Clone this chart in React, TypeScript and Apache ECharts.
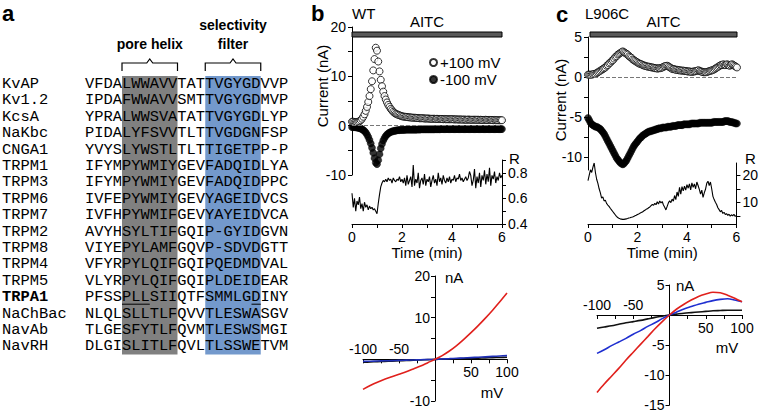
import React, { useEffect, useRef } from 'react';
import * as echarts from 'echarts';

// ---------- Panel a: alignment ----------
const NAMES = ['KvAP', 'Kv1.2', 'KcsA', 'NaKbc', 'CNGA1', 'TRPM1', 'TRPM3', 'TRPM6', 'TRPM7', 'TRPM2', 'TRPM8', 'TRPM4', 'TRPM5', 'TRPA1', 'NaChBac', 'NavAb', 'NavRH'];
const SEQS = [
  'VFDALWWAVVTATTVGYGDVVP',
  'IPDAFWWAVVSMTTVGYGDMVP',
  'YPRALWWSVATATTVGYGDLYP',
  'PIDALYFSVVTLTTVGDGNFSP',
  'YVYSLYWSTLTLTTIGETPP-P',
  'IFYMPYWMIYGEVFADQIDLYA',
  'IFYMPYWMIYGEVFADQIDPPC',
  'IVFEPYWMIYGEVYAGEIDVCS',
  'IVFHPYWMIFGEVYAYEIDVCA',
  'AVYHSYLTIFGQIP-GYIDGVN',
  'VIYEPYLAMFGQVP-SDVDGTT',
  'VFYRPYLQIFGQIPQEDMDVAL',
  'VLYRPYLQIFGQIPLDEIDEAR',
  'PFSSPLLSIIQTFSMMLGDINY',
  'NLQLSLLTLFQVVTLESWASGV',
  'TLGESFYTLFQVMTLESWSMGI',
  'DLGISLITLFQVLTLSSWETVM',
];
const BOLD_NAME = 'TRPA1';
const PORE_COLS = [4, 10];
const FILTER_COLS = [13, 19];

// ---------- Panel b / c time courses (sampled every 0.05 min, 0..6 min) ----------
const SAMPLE_MIN = 0.05;
const WT_PLUS = [
  0.8, 0.8, 0.7, 0.7, 0.7, 0.8, 0.9, 1.1, 1.4, 1.8,
  2.3, 3.0, 3.8, 4.8, 6.0, 7.4, 9.0, 11.2, 13.5, 15.8,
  15.2, 13.0, 11.0, 9.3, 8.0, 6.9, 6.0, 5.3, 4.7, 4.2,
  3.8, 3.4, 3.1, 2.8, 2.6, 2.4, 2.3, 2.2, 2.1, 2.0,
  1.9, 1.85, 1.8, 1.8, 1.75, 1.7, 1.7, 1.65, 1.65, 1.6,
  1.6, 1.6, 1.55, 1.55, 1.5, 1.5, 1.5, 1.5, 1.45, 1.45,
  1.45, 1.45, 1.4, 1.4, 1.4, 1.4, 1.4, 1.35, 1.4, 1.35,
  1.35, 1.35, 1.35, 1.3, 1.35, 1.3, 1.3, 1.3, 1.3, 1.3,
  1.3, 1.3, 1.25, 1.3, 1.25, 1.25, 1.25, 1.25, 1.25, 1.2,
  1.25, 1.2, 1.2, 1.25, 1.2, 1.2, 1.2, 1.2, 1.2, 1.2,
  1.2, 1.2, 1.15, 1.2, 1.15, 1.15, 1.15, 1.2, 1.15, 1.15,
  1.15, 1.15, 1.15, 1.1, 1.15, 1.1, 1.1, 1.1, 1.1, 1.1,
  1.1,
];
const WT_MINUS = [
  -0.3, -0.3, -0.3, -0.3, -0.4, -0.4, -0.5, -0.6, -0.7, -0.9,
  -1.1, -1.4, -1.8, -2.3, -2.9, -3.6, -4.5, -5.5, -6.6, -7.5,
  -7.8, -7.0, -5.8, -4.6, -3.7, -3.0, -2.5, -2.1, -1.8, -1.6,
  -1.4, -1.3, -1.2, -1.1, -1.05, -1.0, -0.95, -0.9, -0.9, -0.85,
  -0.85, -0.85, -0.85, -0.8, -0.8, -0.8, -0.8, -0.8, -0.8, -0.8,
  -0.8, -0.8, -0.8, -0.75, -0.8, -0.75, -0.75, -0.75, -0.75, -0.75,
  -0.75, -0.75, -0.75, -0.75, -0.75, -0.75, -0.75, -0.7, -0.75, -0.7,
  -0.75, -0.7, -0.7, -0.7, -0.7, -0.7, -0.7, -0.7, -0.7, -0.7,
  -0.7, -0.7, -0.7, -0.7, -0.7, -0.7, -0.7, -0.7, -0.7, -0.7,
  -0.7, -0.7, -0.7, -0.7, -0.7, -0.7, -0.7, -0.7, -0.7, -0.7,
  -0.7, -0.7, -0.7, -0.7, -0.7, -0.7, -0.7, -0.7, -0.7, -0.7,
  -0.7, -0.7, -0.7, -0.7, -0.7, -0.7, -0.7, -0.7, -0.7, -0.7,
  -0.7,
];
const WT_R = [
  0.64, 0.53, 0.60, 0.50, 0.58, 0.55, 0.61, 0.52, 0.56, 0.50,
  0.57, 0.53, 0.55, 0.51, 0.54, 0.52, 0.53, 0.51, 0.52, 0.50,
  0.48, 0.56, 0.63, 0.69, 0.72, 0.74, 0.73,
  0.75, 0.73, 0.76, 0.74, 0.75, 0.72, 0.76, 0.74, 0.73, 0.75,
  0.74, 0.77, 0.73, 0.75, 0.72, 0.76, 0.70, 0.78, 0.71, 0.74,
  0.77, 0.69, 0.86, 0.70, 0.75, 0.72, 0.80, 0.68, 0.74, 0.76,
  0.71, 0.79, 0.70, 0.75, 0.73, 0.77, 0.69, 0.74, 0.78, 0.72,
  0.75, 0.70, 0.80, 0.73, 0.76, 0.71, 0.78, 0.74, 0.72, 0.76,
  0.73, 0.77, 0.72, 0.75, 0.74, 0.78, 0.73, 0.76, 0.75, 0.79,
  0.74, 0.76, 0.73, 0.75, 0.77, 0.74, 0.76, 0.81, 0.78, 0.70,
  0.74, 0.83, 0.68, 0.77, 0.72, 0.80, 0.69, 0.78, 0.74, 0.82,
  0.71, 0.79, 0.73, 0.84, 0.70, 0.78, 0.75, 0.81, 0.72, 0.77,
  0.74, 0.80, 0.76, 0.78,
];
const MUT_PLUS = [
  0.3, 0.3, 0.3, 0.3, 0.35, 0.4, 0.4, 0.5, 0.6, 0.7,
  0.8, 0.9, 1.0, 1.1, 1.2, 1.4, 1.5, 1.7, 1.8, 2.0,
  2.1, 2.3, 2.5, 2.6, 2.8, 2.9, 3.0, 3.1, 3.2, 3.1,
  3.0, 2.9, 2.8, 2.6, 2.5, 2.4, 2.2, 2.1, 2.0, 1.9,
  1.8, 1.7, 1.65, 1.6, 1.5, 1.45, 1.4, 1.35, 1.3, 1.3,
  1.25, 1.2, 1.2, 1.15, 1.1, 1.1, 1.05, 1.1, 1.1, 1.15,
  1.2, 1.3, 1.35, 1.4, 1.4, 1.3, 1.2, 1.1, 1.0, 1.0,
  0.95, 0.9, 0.9, 0.85, 0.85, 0.8, 0.8, 0.8, 0.75, 0.75,
  0.7, 0.7, 0.7, 0.65, 0.65, 0.7, 0.7, 0.75, 0.8, 0.85,
  0.75, 0.7, 0.65, 0.6, 0.6, 0.6, 0.65, 0.7, 0.75, 0.8,
  0.85, 0.9, 1.0, 1.1, 1.2, 1.3, 1.4, 1.5, 1.5, 1.6,
  1.5, 1.5, 1.6, 1.5, 1.4, 1.5, 1.6, 1.5, 1.4, 1.3,
  1.2,
];
const MUT_MINUS = [
  -5.1, -5.4, -5.7, -5.9, -6.0, -6.1, -6.2, -6.2, -6.3, -6.4,
  -6.5, -6.7, -6.9, -7.1, -7.4, -7.7, -8.0, -8.3, -8.6, -8.9,
  -9.2, -9.5, -9.8, -10.1, -10.3, -10.5, -10.7, -10.8, -10.9, -10.8,
  -10.6, -10.4, -10.1, -9.8, -9.5, -9.2, -8.9, -8.6, -8.4, -8.2,
  -8.0, -7.8, -7.6, -7.5, -7.3, -7.2, -7.1, -7.0, -6.9, -6.8,
  -6.8, -6.7, -6.7, -6.6, -6.6, -6.5, -6.5, -6.4, -6.4, -6.4,
  -6.3, -6.3, -6.3, -6.3, -6.2, -6.2, -6.2, -6.2, -6.1, -6.1,
  -6.1, -6.1, -6.0, -6.0, -6.0, -6.0, -6.0, -5.9, -5.9, -5.9,
  -5.9, -5.9, -5.9, -5.8, -5.8, -5.8, -5.8, -5.8, -5.8, -5.8,
  -5.7, -5.7, -5.7, -5.7, -5.7, -5.7, -5.7, -5.7, -5.7, -5.7,
  -5.7, -5.6, -5.6, -5.6, -5.6, -5.6, -5.6, -5.6, -5.6, -5.6,
  -5.5, -5.5, -5.5, -5.5, -5.6, -5.6, -5.6, -5.7, -5.7, -5.8,
  -5.8,
];
const MUT_R = [
  18, 20, 22, 21, 23, 24.5, 21, 18.5, 17, 15,
  13.5, 11.5, 12, 10.5, 10.8, 9.6, 9, 8.5, 7.8, 7.2,
  6.6, 6, 5.4, 4.8, 4.4, 4.1, 3.9, 3.8, 3.7, 3.7,
  3.8, 3.9, 4, 4.2, 4.3, 4.5, 4.6, 4.8, 5, 5.2,
  5.5, 5.7, 6, 6.2, 6.4, 6.8, 7.1, 7.4, 7.6, 8,
  8.3, 8.8, 9.2, 8.9, 9.6, 9.1, 10.2, 9.4, 10.5, 9.8,
  10.3, 9, 8.2, 7.2, 8.5, 9.8, 10.6, 9.9, 11.2, 10.4,
  12.5, 11, 13.8, 12.2, 15.5, 13, 15.8, 14.2, 16, 14.5,
  16.5, 15.2, 16.8, 14.6, 17.2, 15.5, 16.8, 15, 17.5, 16.2,
  14.8, 13, 14.5, 11.8, 13.5, 14.8, 17, 17.8, 16.2, 17.5,
  15, 12.2, 11, 10, 9.2, 8, 7.3, 6.5, 7, 5.9,
  6.3, 5.5, 5.8, 5.2, 5.6, 4.9, 5.4, 5, 5.6, 4.8,
  5.2,
];

// ---------- I-V curves ----------
const IV_MV = [-100, -90, -80, -70, -60, -50, -40, -30, -20, -10, 0, 10, 20, 30, 40, 50, 60, 70, 80, 90, 100];
const WT_IV_RED = [-7.2, -6.3, -5.5, -4.8, -4.2, -3.6, -3.0, -2.3, -1.6, -0.8, 0, 0.9, 2.0, 3.3, 4.8, 6.4, 8.1, 9.9, 11.8, 13.8, 15.9];
const WT_IV_BLUE = [-0.5, -0.45, -0.4, -0.35, -0.3, -0.25, -0.2, -0.15, -0.1, -0.05, 0, 0.08, 0.16, 0.25, 0.33, 0.42, 0.5, 0.6, 0.7, 0.8, 0.9];
const WT_IV_BLACK = [-0.7, -0.63, -0.56, -0.49, -0.42, -0.35, -0.28, -0.21, -0.14, -0.07, 0, 0.05, 0.1, 0.15, 0.2, 0.25, 0.3, 0.35, 0.4, 0.45, 0.5];
const MUT_IV_RED = [-12.9, -11.5, -10.2, -8.9, -7.5, -6.2, -4.9, -3.6, -2.3, -1.1, 0, 1.0, 1.8, 2.5, 3.1, 3.5, 3.8, 3.7, 3.3, 2.8, 2.2];
const MUT_IV_BLUE = [-6.4, -5.8, -5.1, -4.5, -3.9, -3.2, -2.6, -1.9, -1.3, -0.6, 0, 0.5, 1.0, 1.4, 1.8, 2.1, 2.4, 2.6, 2.7, 2.5, 2.2];
const MUT_IV_BLACK = [-2.2, -2.0, -1.8, -1.55, -1.3, -1.1, -0.9, -0.65, -0.4, -0.2, 0, 0.15, 0.3, 0.4, 0.5, 0.6, 0.7, 0.75, 0.8, 0.8, 0.8];

const FONT = 'Liberation Sans, Arial, sans-serif';
const MONO = 'Liberation Mono, Courier New, monospace';
const BLACK = '#000';

const timed = (vals: number[]) => vals.map((v, i) => [Math.round(i * SAMPLE_MIN * 100) / 100, v]);
const ivPairs = (vals: number[]) => vals.map((v, i) => [IV_MV[i], v]);

function buildAlignmentGraphics() {
  const ROW0 = 84, DY = 16.4, SEQ_X = 85, CH = 9.25, NAME_X = 2;
  const els: any[] = [];
  const top = ROW0 - 8;
  const bottom = ROW0 + (NAMES.length - 1) * DY + 8;
  els.push({ type: 'rect', shape: { x: SEQ_X + PORE_COLS[0] * CH, y: top, width: (PORE_COLS[1] - PORE_COLS[0]) * CH, height: bottom - top }, style: { fill: '#808080' } });
  els.push({ type: 'rect', shape: { x: SEQ_X + FILTER_COLS[0] * CH, y: top, width: (FILTER_COLS[1] - FILTER_COLS[0]) * CH, height: bottom - top }, style: { fill: '#7399cc' } });
  NAMES.forEach((n, i) => {
    const y = ROW0 + i * DY;
    els.push({ type: 'text', x: NAME_X, y, style: { text: n, fontFamily: MONO, fontSize: 15.4, fontWeight: n === BOLD_NAME ? 'bold' : 'normal', fill: BLACK, align: 'left', verticalAlign: 'middle' } });
    els.push({ type: 'text', x: SEQ_X, y, style: { text: SEQS[i], fontFamily: MONO, fontSize: 15.4, fill: BLACK, align: 'left', verticalAlign: 'middle' } });
    if (n === BOLD_NAME) {
      els.push({ type: 'line', shape: { x1: SEQ_X + 4 * CH, y1: y + 7, x2: SEQ_X + 7 * CH, y2: y + 7 }, style: { stroke: BLACK, lineWidth: 1 } });
      els.push({ type: 'line', shape: { x1: SEQ_X + 18 * CH, y1: y + 7, x2: SEQ_X + 19 * CH, y2: y + 7 }, style: { stroke: BLACK, lineWidth: 1 } });
    }
  });
  const bracket = (x1: number, x2: number) => {
    const m = (x1 + x2) / 2;
    return { type: 'polyline', shape: { points: [[x1, 71], [x1, 63], [m - 3, 63], [m, 59], [m + 3, 63], [x2, 63], [x2, 71]] }, style: { stroke: BLACK, lineWidth: 1.2, fill: null } };
  };
  const px1 = SEQ_X + PORE_COLS[0] * CH, px2 = SEQ_X + PORE_COLS[1] * CH;
  const fx1 = SEQ_X + FILTER_COLS[0] * CH, fx2 = SEQ_X + FILTER_COLS[1] * CH;
  els.push(bracket(px1, px2));
  els.push(bracket(fx1, fx2));
  const lbl = (text: string, x: number, y: number) => ({ type: 'text', x, y, style: { text, fontFamily: FONT, fontWeight: 'bold', fontSize: 14, fill: BLACK, align: 'center', verticalAlign: 'middle' } });
  els.push(lbl('pore helix', (px1 + px2) / 2, 44));
  els.push(lbl('selectivity', (fx1 + fx2) / 2, 25));
  els.push(lbl('filter', (fx1 + fx2) / 2, 44));
  return els;
}

const txt = (text: string, x: number, y: number, opt: any = {}) => ({
  type: 'text', x, y, rotation: opt.rotation || 0,
  style: { text, fontFamily: FONT, fontSize: opt.fontSize || 15, fontWeight: opt.fontWeight || 'normal', fill: BLACK, align: opt.align || 'left', verticalAlign: 'middle' },
});

const axisBase = {
  axisLine: { show: true, onZero: false, lineStyle: { color: BLACK, width: 1 } },
  axisTick: { show: true, length: 4, lineStyle: { color: BLACK } },
  splitLine: { show: false },
  axisLabel: { fontSize: 14, color: BLACK, fontFamily: FONT },
};

function hiddenAxis(gridIndex: number, min: number, max: number) {
  return { type: 'value', gridIndex, min, max, show: false, splitLine: { show: false } };
}

function timeAxis(gridIndex: number) {
  return {
    ...axisBase, type: 'value', gridIndex, min: 0, max: 6, interval: 2,
    minorTick: { show: true, splitNumber: 2, length: 4, lineStyle: { color: BLACK } },
    minorSplitLine: { show: false },
    axisLabel: { ...axisBase.axisLabel, margin: 6 },
    name: 'Time (min)', nameLocation: 'middle', nameGap: 21,
    nameTextStyle: { fontSize: 15, color: BLACK, fontFamily: FONT },
  };
}

// I-V grid geometry: axes cross at (0 mV, 0 nA)
const IV_X = [-100, 100];
const WT_IV_Y = [-10, 20];
const MUT_IV_Y = [-15, 5];
const zeroShift = (range: number[], size: number) => size * (0 - range[0]) / (range[1] - range[0]);

function ivXAxes(gridIndex: number, gridH: number, yRange: number[]) {
  const fromBottom = zeroShift(yRange, gridH);
  return [
    {
      ...axisBase, type: 'value', gridIndex, min: IV_X[0], max: IV_X[1], interval: 50, position: 'bottom', offset: -fromBottom,
      axisTick: { show: true, length: 4, lineStyle: { color: BLACK }, customValues: [-100, -75, -50, -25, 25, 50, 75, 100] },
      axisLabel: { ...axisBase.axisLabel, customValues: [50, 100], margin: 6 },
    },
    {
      type: 'value', gridIndex, min: IV_X[0], max: IV_X[1], interval: 50, position: 'top', offset: -(gridH - fromBottom),
      axisLine: { show: false, onZero: false },
      axisTick: { show: false },
      splitLine: { show: false },
      axisLabel: { fontSize: 14, color: BLACK, fontFamily: FONT, customValues: [-100, -50], margin: 3 },
    },
  ];
}

const scatterPlus = (name: string, xi: number, yi: number, data: number[]) => ({
  name, type: 'scatter', xAxisIndex: xi, yAxisIndex: yi, data: timed(data), symbol: 'circle', symbolSize: 7, z: 3,
  itemStyle: { color: '#fff', borderColor: BLACK, borderWidth: 1 },
  markLine: { silent: true, symbol: 'none', label: { show: false }, lineStyle: { type: 'dashed', color: '#777', width: 1 }, data: [{ yAxis: 0 }] },
});
const scatterMinus = (name: string, xi: number, yi: number, data: number[]) => ({
  name, type: 'scatter', xAxisIndex: xi, yAxisIndex: yi, data: timed(data), symbol: 'circle', symbolSize: 7, z: 2,
  itemStyle: { color: BLACK, borderColor: BLACK, borderWidth: 0.5 },
});
const rLine = (xi: number, yi: number, data: number[]) => ({
  type: 'line', xAxisIndex: xi, yAxisIndex: yi, data: timed(data), showSymbol: false, symbol: 'none',
  lineStyle: { color: BLACK, width: 1.1 },
});
const aitc = (xi: number, yi: number) => ({
  type: 'line', xAxisIndex: xi, yAxisIndex: yi, data: [[0, 0.5], [6, 0.5]], showSymbol: false, symbol: 'none',
  lineStyle: { opacity: 0 },
  markArea: {
    silent: true,
    itemStyle: { color: '#595959', borderColor: BLACK, borderWidth: 1 },
    label: { show: true, position: 'top', formatter: 'AITC', fontSize: 15, color: BLACK, fontFamily: FONT, distance: 3 },
    data: [[{ xAxis: 0, yAxis: 0 }, { xAxis: 6, yAxis: 1 }]],
  },
});
const ivLine = (xi: number, yi: number, data: number[], color: string) => ({
  type: 'line', xAxisIndex: xi, yAxisIndex: yi, data: ivPairs(data), showSymbol: false, symbol: 'none', smooth: 0.3,
  lineStyle: { color, width: 1.6 },
});

export default function App() {
  const ref = useRef<HTMLDivElement>(null);
  useEffect(() => {
    document.body.style.margin = '0';
    if (!ref.current) return;
    const chart = echarts.init(ref.current, null, { renderer: 'svg' });
    const WT_IV_GRID = { left: 363, top: 276, width: 144, height: 125 };
    const MUT_IV_GRID = { left: 597, top: 285, width: 145, height: 120 };
    const option: any = {
      animation: false,
      backgroundColor: '#fff',
      textStyle: { fontFamily: FONT },
      grid: [
        { left: 352, top: 27, width: 150, height: 148 },   // 0 b current
        { left: 352, top: 160, width: 150, height: 64 },   // 1 b R
        { left: 352, top: 32, width: 150, height: 5 },     // 2 b AITC
        WT_IV_GRID,                                        // 3 b IV
        { left: 588, top: 37, width: 149, height: 133 },   // 4 c current
        { left: 588, top: 163, width: 149, height: 61 },   // 5 c R
        { left: 590, top: 32, width: 147, height: 5 },     // 6 c AITC
        MUT_IV_GRID,                                       // 7 c IV
      ],
      xAxis: [
        hiddenAxis(0, 0, 6),   // 0
        timeAxis(1),           // 1
        hiddenAxis(2, 0, 6),   // 2
        ...ivXAxes(3, WT_IV_GRID.height, WT_IV_Y),   // 3, 4
        hiddenAxis(4, 0, 6),   // 5
        timeAxis(5),           // 6
        hiddenAxis(6, 0, 6),   // 7
        ...ivXAxes(7, MUT_IV_GRID.height, MUT_IV_Y), // 8, 9
      ],
      yAxis: [
        {
          ...axisBase, type: 'value', gridIndex: 0, min: -10, max: 20, interval: 10,
          minorTick: { show: true, splitNumber: 2, length: 4, lineStyle: { color: BLACK } }, minorSplitLine: { show: false },
          axisLabel: { ...axisBase.axisLabel, margin: 6 },
        },
        {
          ...axisBase, type: 'value', gridIndex: 1, position: 'right', min: 0.4, max: 0.9,
          axisTick: { show: true, length: 4, lineStyle: { color: BLACK }, customValues: [0.4, 0.5, 0.6, 0.7, 0.8, 0.9] },
          axisLabel: { ...axisBase.axisLabel, margin: 6, customValues: [0.4, 0.6, 0.8], formatter: (v: number) => v.toFixed(1) },
        },
        hiddenAxis(2, 0, 1),
        {
          ...axisBase, type: 'value', gridIndex: 3, min: WT_IV_Y[0], max: WT_IV_Y[1], interval: 10, position: 'left',
          offset: -zeroShift(IV_X, WT_IV_GRID.width),
          axisTick: { show: true, length: 4, lineStyle: { color: BLACK }, customValues: [-10, -5, 5, 10, 15, 20] },
          axisLabel: { ...axisBase.axisLabel, margin: 5, customValues: [-10, 10, 20] },
        },
        {
          ...axisBase, type: 'value', gridIndex: 4, min: -11.6, max: 5,
          axisTick: { show: true, length: 4, lineStyle: { color: BLACK }, customValues: [5, 2.5, 0, -2.5, -5, -7.5, -10] },
          axisLabel: { ...axisBase.axisLabel, margin: 6, customValues: [5, 0, -5, -10] },
        },
        {
          ...axisBase, type: 'value', gridIndex: 5, position: 'right', min: 2, max: 24.5,
          axisTick: { show: true, length: 4, lineStyle: { color: BLACK }, customValues: [5, 10, 15, 20] },
          axisLabel: { ...axisBase.axisLabel, margin: 6, customValues: [10, 20] },
        },
        hiddenAxis(6, 0, 1),
        {
          ...axisBase, type: 'value', gridIndex: 7, min: MUT_IV_Y[0], max: MUT_IV_Y[1], interval: 5, position: 'left',
          offset: -zeroShift(IV_X, MUT_IV_GRID.width),
          axisTick: { show: true, length: 4, lineStyle: { color: BLACK }, customValues: [-15, -10, -5, 5] },
          axisLabel: { ...axisBase.axisLabel, margin: 5, customValues: [5, -5, -10, -15] },
        },
      ],
      legend: {
        data: ['+100 mV', '-100 mV'], left: 429, top: 55, orient: 'vertical', icon: 'circle',
        itemWidth: 7, itemHeight: 7, itemGap: 2, selectedMode: false, padding: 0,
        textStyle: { fontSize: 15, color: BLACK, fontFamily: FONT, padding: [0, 0, 0, -2] },
      },
      series: [
        scatterMinus('-100 mV', 0, 0, WT_MINUS),
        scatterPlus('+100 mV', 0, 0, WT_PLUS),
        rLine(1, 1, WT_R),
        aitc(2, 2),
        ivLine(3, 3, WT_IV_BLACK, '#111'),
        ivLine(3, 3, WT_IV_BLUE, '#1f2fb8'),
        ivLine(3, 3, WT_IV_RED, '#e0201c'),
        scatterMinus('L906C -100 mV', 5, 4, MUT_MINUS),
        scatterPlus('L906C +100 mV', 5, 4, MUT_PLUS),
        rLine(6, 5, MUT_R),
        aitc(7, 6),
        ivLine(8, 7, MUT_IV_BLACK, '#111'),
        ivLine(8, 7, MUT_IV_BLUE, '#1f2fd0'),
        ivLine(8, 7, MUT_IV_RED, '#e0201c'),
      ],
      graphic: {
        elements: [
          ...buildAlignmentGraphics(),
          txt('a', 2, 13, { fontSize: 22, fontWeight: 'bold' }),
          txt('b', 311, 13, { fontSize: 22, fontWeight: 'bold' }),
          txt('c', 556, 14, { fontSize: 22, fontWeight: 'bold' }),
          txt('WT', 352, 13, { fontSize: 15 }),
          txt('L906C', 585, 13, { fontSize: 15 }),
          txt('Current (nA)', 322, 86, { rotation: Math.PI / 2, align: 'center' }),
          txt('Current (nA)', 560, 100, { rotation: Math.PI / 2, align: 'center' }),
          txt('R', 509, 158, { fontSize: 15 }),
          txt('R', 745, 158, { fontSize: 15 }),
          txt('nA', 445, 277, { fontSize: 15 }),
          txt('nA', 676, 285, { fontSize: 15 }),
          txt('mV', 492, 392, { fontSize: 15, align: 'center' }),
          txt('mV', 727, 347, { fontSize: 15, align: 'center' }),
        ],
      },
    };
    chart.setOption(option);
    return () => chart.dispose();
  }, []);
  return <div ref={ref} style={{ width: 761, height: 412 }} />;
}
